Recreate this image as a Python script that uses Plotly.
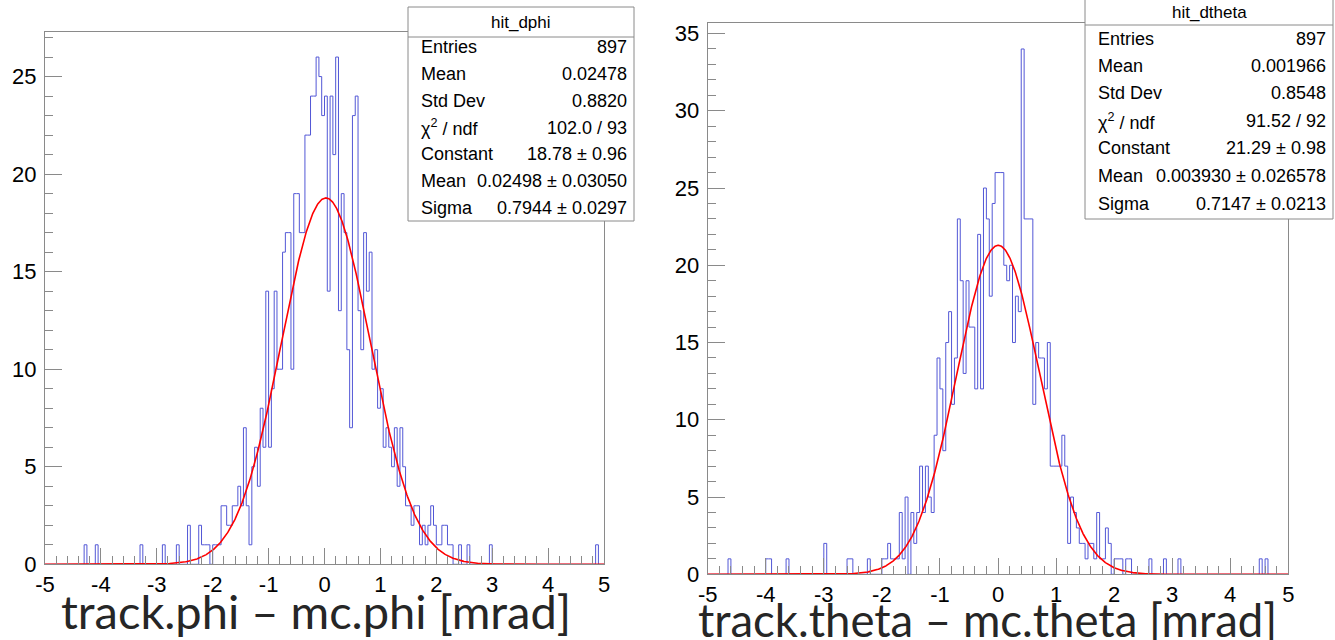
import numpy as np
import plotly.graph_objects as go

W, H = 1335, 640

# ---------------- data ----------------
bin_edges = np.round(np.linspace(-5.0, 5.0, 201), 4)   # 200 bins of width 0.05

phi_counts = [
    0, 0, 0, 0, 0, 0, 0, 0, 0, 0, 0, 0, 0, 0, 1, 0, 0, 0, 1, 0,
    0, 0, 0, 0, 0, 0, 0, 0, 0, 0, 0, 0, 0, 0, 1, 0, 0, 0, 0, 0,
    0, 0, 1, 0, 0, 0, 0, 1, 0, 0, 0, 2, 0, 0, 0, 2, 1, 1, 1, 0,
    1, 1, 1, 3, 3, 2, 2, 3, 3, 4, 3, 7, 3, 1, 5, 6, 4, 8, 6, 14,
    6, 9, 14, 10, 10, 16, 17, 17, 10, 19, 19, 17, 17, 22, 22, 24, 24, 26, 25, 23,
    24, 14, 24, 21, 26, 13, 19, 17, 11, 7, 23, 24, 13, 11, 17, 14, 16, 10, 11, 8,
    9, 6, 7, 6, 5, 7, 4, 7, 5, 3, 3, 2, 3, 3, 1, 2, 1, 2, 3, 2,
    1, 1, 2, 2, 1, 1, 0, 0, 1, 0, 0, 1, 0, 0, 0, 0, 0, 0, 0, 1,
    0, 0, 0, 0, 0, 0, 0, 0, 0, 0, 0, 0, 0, 0, 0, 0, 0, 0, 0, 0,
    0, 0, 0, 0, 0, 0, 0, 0, 0, 0, 0, 0, 0, 0, 0, 0, 0, 1, 0, 0,
]

theta_counts = [
    0, 0, 0, 0, 0, 0, 0, 1, 0, 0, 0, 0, 0, 0, 0, 0, 0, 0, 0, 0,
    1, 1, 0, 0, 0, 0, 0, 1, 0, 0, 0, 0, 0, 0, 0, 0, 0, 0, 0, 0,
    2, 0, 0, 0, 0, 0, 0, 0, 1, 1, 0, 0, 0, 0, 0, 1, 0, 0, 0, 0,
    1, 1, 2, 1, 1, 1, 4, 1, 5, 0, 4, 2, 4, 7, 4, 7, 5, 4, 9, 14,
    12, 8, 15, 17, 11, 14, 23, 19, 13, 19, 16, 16, 12, 22, 12, 25, 23, 18, 24, 26,
    26, 26, 20, 19, 20, 15, 18, 17, 34, 23, 23, 23, 11, 15, 14, 14, 12, 15, 7, 7,
    7, 7, 9, 7, 2, 5, 4, 3, 2, 2, 1, 2, 2, 1, 4, 1, 1, 3, 2, 0,
    1, 1, 1, 0, 1, 1, 0, 0, 0, 0, 0, 0, 1, 0, 0, 0, 0, 1, 0, 0,
    0, 0, 1, 0, 0, 0, 0, 0, 0, 0, 0, 0, 0, 0, 0, 0, 0, 0, 0, 0,
    0, 0, 0, 0, 0, 0, 0, 0, 0, 0, 1, 0, 1, 0, 0, 0, 0, 0, 0, 0,
]

# Gaussian fit parameters (Constant, Mean, Sigma) from the stat boxes
phi_fit = [18.78, 0.02498, 0.7944]
theta_fit = [21.29, 0.003930, 0.7147]

x_tick_vals = [-5, -4, -3, -2, -1, 0, 1, 2, 3, 4, 5]
x_tick_text = ["-5", "-4", "-3", "-2", "-1", "0", "1", "2", "3", "4", "5"]
phi_y_ticks = [0, 5, 10, 15, 20, 25]
theta_y_ticks = [0, 5, 10, 15, 20, 25, 30, 35]

phi_stats_title = "hit_dphi"
phi_stats_labels = ["Entries", "Mean", "Std Dev", "χ<sup>2</sup> / ndf", "Constant", "Mean", "Sigma"]
phi_stats_values = ["897", "0.02478", "0.8820", "102.0 / 93", "18.78 ± 0.96",
                    "0.02498 ± 0.03050", "0.7944 ± 0.0297"]
theta_stats_title = "hit_dtheta"
theta_stats_labels = phi_stats_labels
theta_stats_values = ["897", "0.001966", "0.8548", "91.52 / 92", "21.29 ± 0.98",
                      "0.003930 ± 0.026578", "0.7147 ± 0.0213"]

phi_xtitle = "track.phi – mc.phi [mrad]"
theta_xtitle = "track.theta – mc.theta [mrad]"

# ---------------- figure ----------------
def px(x):
    return x / W

def py(y):
    return 1 - y / H

HIST_COLOR = "#5257d6"
FRAME = "#8a8a8a"
TICKFONT = dict(family="Liberation Sans, Arial, sans-serif", size=22, color="black")

fig = go.Figure()

xs = np.linspace(-5, 5, 1201)
for counts, fit, xa, ya in [(phi_counts, phi_fit, "x", "y"), (theta_counts, theta_fit, "x2", "y2")]:
    yy = list(counts) + [counts[-1]]
    fig.add_trace(go.Scatter(x=bin_edges, y=yy, mode="lines", line_shape="hv",
                             line=dict(color=HIST_COLOR, width=1),
                             xaxis=xa, yaxis=ya, hoverinfo="skip"))
    c, m, s = fit
    fig.add_trace(go.Scatter(x=xs, y=c * np.exp(-0.5 * ((xs - m) / s) ** 2), mode="lines",
                             line=dict(color="#ff0000", width=1.6),
                             xaxis=xa, yaxis=ya, hoverinfo="skip"))

def xaxis_cfg(domain, anchor):
    return dict(domain=domain, anchor=anchor, range=[-5, 5], showgrid=False, zeroline=False,
                showline=True, mirror=True, linecolor=FRAME, linewidth=1, automargin=False,
                ticks="inside", ticklen=16, tickwidth=1, tickcolor=FRAME,
                tickvals=x_tick_vals, ticktext=x_tick_text, tickfont=TICKFONT,
                minor=dict(dtick=0.2, tick0=0, ticks="inside", ticklen=8, tickcolor=FRAME, tickwidth=1))

def yaxis_cfg(domain, anchor, ymax, tickvals):
    return dict(domain=domain, anchor=anchor, range=[0, ymax], showgrid=False, zeroline=False,
                showline=True, mirror=True, linecolor=FRAME, linewidth=1, automargin=False,
                ticks="inside", ticklen=17, tickwidth=1, tickcolor=FRAME, ticklabelstandoff=3,
                tickvals=tickvals, ticktext=[str(v) for v in tickvals], tickfont=TICKFONT,
                minor=dict(dtick=1, tick0=0, ticks="inside", ticklen=8, tickcolor=FRAME, tickwidth=1))

fig.update_layout(
    width=W, height=H, margin=dict(l=0, r=0, t=0, b=0, autoexpand=False),
    paper_bgcolor="white", plot_bgcolor="white", showlegend=False,
    xaxis=xaxis_cfg([px(45), px(604)], "y"),
    yaxis=yaxis_cfg([py(564.3), py(31.7)], "x", max(phi_counts) * 1.05, phi_y_ticks),
    xaxis2=xaxis_cfg([px(707.7), px(1288.3)], "y2"),
    yaxis2=yaxis_cfg([py(574.3), py(22.7)], "x2", max(theta_counts) * 1.05, theta_y_ticks),
)

shapes = []
annotations = []
STATFONT = dict(family="Liberation Sans, Arial, sans-serif", size=18, color="black")

def stat_box(x0, x1, y0, y1, ydiv, title_y, rows_y, title, labels, values):
    shapes.append(dict(type="rect", xref="paper", yref="paper", x0=px(x0), x1=px(x1),
                       y0=py(y1), y1=py(y0), fillcolor="white",
                       line=dict(color=FRAME, width=1), layer="above"))
    shapes.append(dict(type="line", xref="paper", yref="paper", x0=px(x0), x1=px(x1),
                       y0=py(ydiv), y1=py(ydiv), line=dict(color=FRAME, width=1), layer="above"))
    annotations.append(dict(xref="paper", yref="paper", x=px((x0 + x1) / 2), y=py(title_y),
                            text=title, showarrow=False, xanchor="center", yanchor="middle",
                            font=dict(family="Liberation Sans, Arial, sans-serif", size=17, color="black")))
    for lab, val, yr in zip(labels, values, rows_y):
        annotations.append(dict(xref="paper", yref="paper", x=px(x0 + 11), y=py(yr),
                                text=lab, showarrow=False, xanchor="left", yanchor="middle", font=STATFONT))
        annotations.append(dict(xref="paper", yref="paper", x=px(x1 - 5), y=py(yr),
                                text=val, showarrow=False, xanchor="right", yanchor="middle", font=STATFONT))

stat_box(408, 634, 7, 221, 37, 22, [47, 74, 101, 128, 154, 181, 208],
         phi_stats_title, phi_stats_labels, phi_stats_values)
stat_box(1085, 1333, -2, 219, 25, 12, [39, 66, 93, 121, 148, 176, 204],
         theta_stats_title, theta_stats_labels, theta_stats_values)

annotations.append(dict(xref="paper", yref="paper", x=px(316), y=py(611), text=phi_xtitle,
                        showarrow=False, xanchor="center", yanchor="middle",
                        font=dict(family="Lato, Open Sans, sans-serif", size=47, color="#262626")))
annotations.append(dict(xref="paper", yref="paper", x=px(987), y=py(619), text=theta_xtitle,
                        showarrow=False, xanchor="center", yanchor="middle",
                        font=dict(family="Lato, Open Sans, sans-serif", size=45.5, color="#262626")))

fig.update_layout(shapes=shapes, annotations=annotations)
fig.write_html("out.html")
